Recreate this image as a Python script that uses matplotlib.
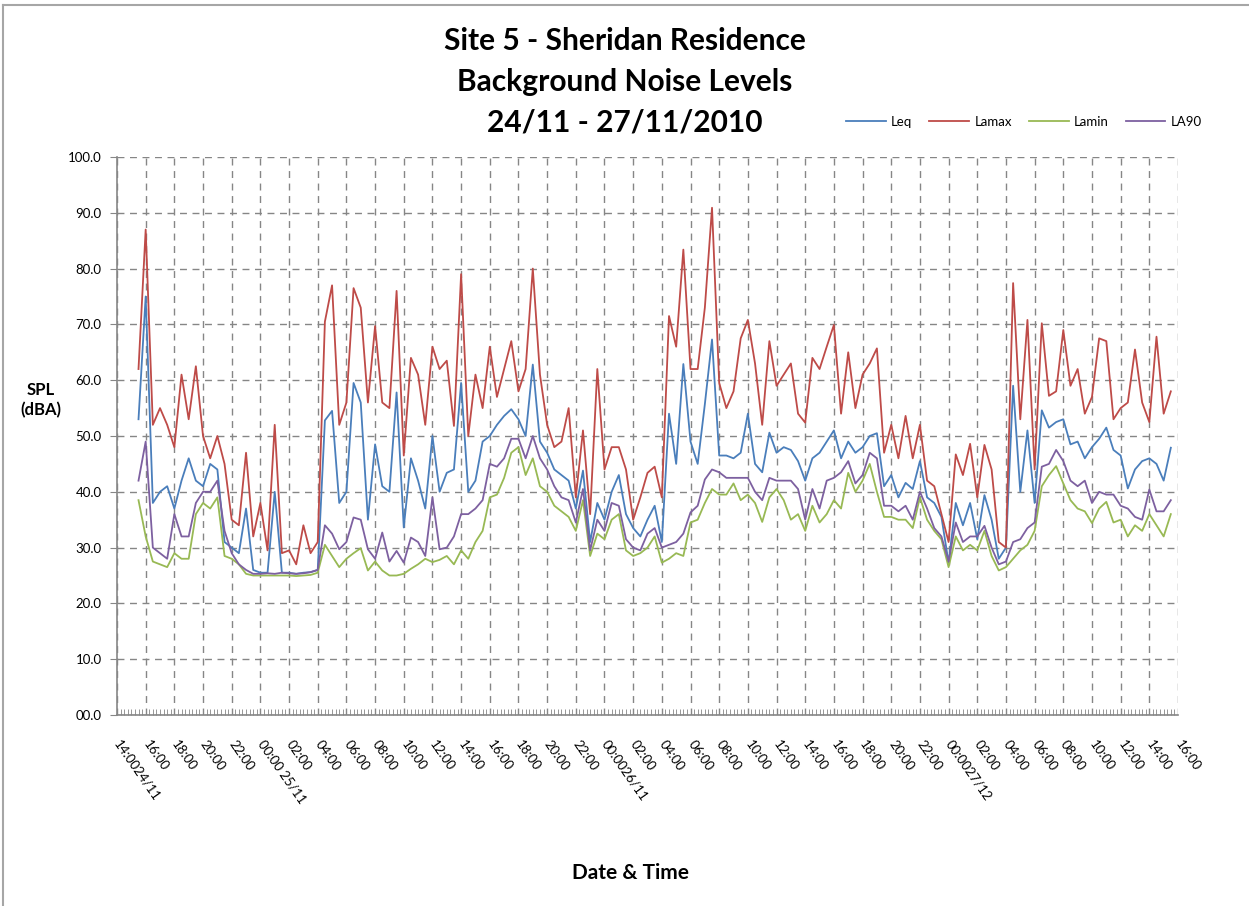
import matplotlib
matplotlib.use("Agg")
import matplotlib.pyplot as plt
import matplotlib.dates as mdates
import pandas as pd
from matplotlib.lines import Line2D

plt.rcParams['font.family'] = ['Lato', 'DejaVu Sans']

# half-hourly readings, 15:30 24/11 to 15:30 27/11
times = pd.date_range('2010-11-24 15:30', periods=145, freq='30min')

leq = [53, 75, 38, 40, 41, 37, 42, 46, 42, 41, 45, 44, 31, 30, 29, 37, 26, 25.5, 25.5, 40,
       25.5, 25.5, 25.3, 25.5, 25.6, 26, 52.8, 54.5, 38, 40, 59.5, 56, 35, 48.5, 41, 40, 57.8, 33.6, 46, 42,
       37, 50, 40, 43.4, 44, 59.5, 40, 42, 49, 50, 52, 53.6, 54.8, 53, 50, 62.8, 49, 47, 44, 43,
       42, 37, 43.8, 31, 38, 35, 40, 43, 36, 33.5, 32, 35, 37.5, 31, 54, 45, 62.9, 49, 45, 55.7,
       67.3, 46.5, 46.5, 46, 47, 54, 45, 43.5, 50.6, 47, 48, 47.5, 45.5, 42, 46, 47, 49, 51, 46, 49,
       47, 48, 50, 50.5, 41, 43, 39, 41.6, 40.5, 45.5, 39, 38, 35.5, 27.3, 38, 34, 38, 31.5, 39.4, 35,
       28, 30, 59, 40, 51, 38, 54.6, 51.5, 52.5, 53, 48.5, 49, 46, 48, 49.5, 51.5, 47.5, 46.5, 40.6, 44,
       45.5, 46, 45, 42, 47.9]

lamax = [62, 87, 52, 55, 52, 48, 61, 53, 62.5, 50, 46, 50, 45, 35, 34, 47, 32, 38, 29.5, 52,
         29, 29.5, 27, 34, 29, 31, 70.5, 77, 52, 56, 76.5, 73, 56, 69.7, 56, 55, 76, 46.5, 64, 61,
         52, 66, 62, 63.5, 51.8, 79, 50, 61, 55, 66, 57, 62, 67, 58, 62, 80, 61, 52, 48, 49,
         55, 39, 51, 36, 62, 44, 48, 48, 44, 35, 39, 43.4, 44.5, 39, 71.5, 66, 83.4, 62, 62, 73,
         90.9, 59.5, 55, 58, 67.5, 70.8, 63, 52, 67, 59, 61, 63, 54, 52.4, 64, 62, 66, 69.9, 54, 65,
         55, 61, 63, 65.7, 47, 52, 46, 53.6, 46, 52, 42, 41, 36, 31, 46.7, 43, 48.6, 39, 48.4, 44,
         31, 30, 77.4, 53, 70.8, 44, 70.2, 57.2, 58, 69, 59, 62, 54, 57, 67.5, 67, 53, 55, 56, 65.5,
         56, 52.5, 67.8, 54, 58]

lamin = [38.5, 32, 27.5, 27, 26.5, 29, 28, 28, 36, 38, 37, 39, 28.5, 28, 27, 25.3, 25, 25, 25, 25,
         25, 25, 24.9, 25, 25.1, 25.5, 30.5, 28.5, 26.5, 28, 29, 29.9, 25.9, 27.5, 25.9, 25, 25, 25.3, 26.2, 27,
         28, 27.4, 27.8, 28.5, 27, 29.5, 28, 31, 33, 39, 39.5, 42.5, 47, 48, 43, 46, 41, 40, 37.5, 36.5,
         35.5, 33, 38.5, 28.5, 32.5, 31.5, 35, 36, 29.5, 28.5, 29, 30, 32, 27.3, 28, 29, 28.5, 34.5, 35, 38,
         40.5, 39.5, 39.5, 41.5, 38.5, 39.5, 38, 34.6, 39, 40.5, 38.5, 35, 36, 33, 37.5, 34.5, 36, 38.5, 37, 43.4,
         40, 42, 45, 40, 35.5, 35.5, 35, 35, 33.5, 39, 35, 33, 31.5, 26.5, 32, 29.5, 30.5, 29.5, 33, 28.5,
         25.9, 26.5, 28, 29.5, 30.5, 33, 41, 43, 44.6, 41.5, 38.5, 37, 36.5, 34.4, 37, 38.2, 34.5, 35, 32, 34,
         33, 36, 34, 32, 36]

la90 = [42, 49, 30, 29, 28, 36, 32, 32, 38, 40, 40, 42, 33, 29, 27, 26, 25.3, 25.3, 25.4, 25.3,
        25.5, 25.4, 25.3, 25.4, 25.6, 26, 34, 32.5, 29.7, 31, 35.4, 35, 29.7, 28, 32.7, 27.5, 29.4, 27.3, 31.8, 31,
        28.5, 39, 29.7, 30, 32, 36, 36, 37, 38.5, 45, 44.5, 46, 49.5, 49.5, 46, 50, 46, 44, 41, 39,
        38.5, 34.5, 40.5, 29.5, 35, 33, 38, 37.5, 31.5, 30, 29.5, 32.5, 33.5, 30, 30.5, 31, 32.5, 36.3, 37.5, 42.2,
        44, 43.5, 42.5, 42.5, 42.5, 42.5, 40, 38.5, 42.5, 42, 42, 42, 40.5, 35, 40.5, 37, 42, 42.5, 43.5, 45.5,
        41.5, 43, 47, 46, 37.5, 37.5, 36.5, 37.5, 35, 40, 37, 33.5, 32, 27.5, 34.5, 31, 32, 32, 33.9, 30,
        27, 27.5, 31, 31.5, 33.5, 34.5, 44.5, 45, 47.5, 45.5, 42, 41, 42, 38, 40, 39.5, 39.5, 37.5, 37, 35.5,
        35, 40.4, 36.5, 36.5, 38.5]

tick_times = pd.date_range('2010-11-24 14:00', '2010-11-27 16:00', freq='2h')
tick_labels = ['14:0024/11', '16:00', '18:00', '20:00', '22:00', '00:00 25/11',
               '02:00', '04:00', '06:00', '08:00', '10:00', '12:00', '14:00', '16:00',
               '18:00', '20:00', '22:00', '00:0026/11', '02:00', '04:00', '06:00', '08:00',
               '10:00', '12:00', '14:00', '16:00', '18:00', '20:00', '22:00', '00:0027/12',
               '02:00', '04:00', '06:00', '08:00', '10:00', '12:00', '14:00', '16:00']
y_ticks = list(range(0, 101, 10))

fig = plt.figure(figsize=(12.49, 9.06), dpi=100)
ax = fig.add_axes([117 / 1249, 1 - 715 / 906, 1061 / 1249, 558 / 906])

ax.plot(times, leq, color='#4A7EBB', lw=1.3, label='Leq')
ax.plot(times, lamax, color='#BE4B48', lw=1.3, label='Lamax')
ax.plot(times, lamin, color='#98B954', lw=1.3, label='Lamin')
ax.plot(times, la90, color='#7D60A0', lw=1.3, label='LA90')

ax.set_xlim(tick_times[0], tick_times[-1])
ax.set_ylim(0, 100)
ax.set_xticks(tick_times)
ax.set_xticklabels(tick_labels)
ax.xaxis.set_minor_locator(mdates.MinuteLocator(byminute=[0, 15, 30, 45]))
ax.set_yticks(y_ticks)
ax.set_yticklabels([f'{v:04.1f}' for v in y_ticks])

ax.grid(True, which='major', linestyle=(0, (5, 4)), color='#868686', lw=1.0)
for side in ['top', 'right']:
    ax.spines[side].set_visible(False)
for side in ['left', 'bottom']:
    ax.spines[side].set_color('#868686')
    ax.spines[side].set_linewidth(1.2)

ax.tick_params(axis='x', which='major', length=0, pad=19, labelsize=9.5)
ax.tick_params(axis='x', which='minor', direction='in', length=4, color='#868686')
ax.tick_params(axis='y', length=5, color='#868686', labelsize=9.5, pad=6)
plt.setp(ax.get_xticklabels(), rotation=-55, ha='left', va='center', rotation_mode='anchor')

fig.text(0.5, 1 - 82 / 906, 'Site 5 - Sheridan Residence\nBackground Noise Levels\n24/11 - 27/11/2010',
         ha='center', va='center', fontsize=21.5, fontweight='bold', linespacing=1.55)
fig.text(41 / 1249, 1 - 400 / 906, 'SPL\n(dBA)', ha='center', va='center',
         fontsize=12, fontweight='bold', linespacing=1.3)
fig.text(630 / 1249, 1 - 873 / 906, 'Date & Time', ha='center', va='center',
         fontsize=15, fontweight='bold')

fig.legend(loc='center', bbox_to_anchor=(1024 / 1249, 1 - 122 / 906), ncol=4, frameon=False,
           fontsize=9.5, handlelength=3, columnspacing=1.3, handletextpad=0.4)

# chart area frame (left and top edges)
fig.add_artist(Line2D([3 / 1249, 3 / 1249], [0, 1 - 5 / 906], transform=fig.transFigure,
                      color='#a6a6a6', lw=1.5))
fig.add_artist(Line2D([3 / 1249, 1], [1 - 5 / 906, 1 - 5 / 906], transform=fig.transFigure,
                      color='#a6a6a6', lw=1.5))

fig.savefig('out.png', dpi=100)
